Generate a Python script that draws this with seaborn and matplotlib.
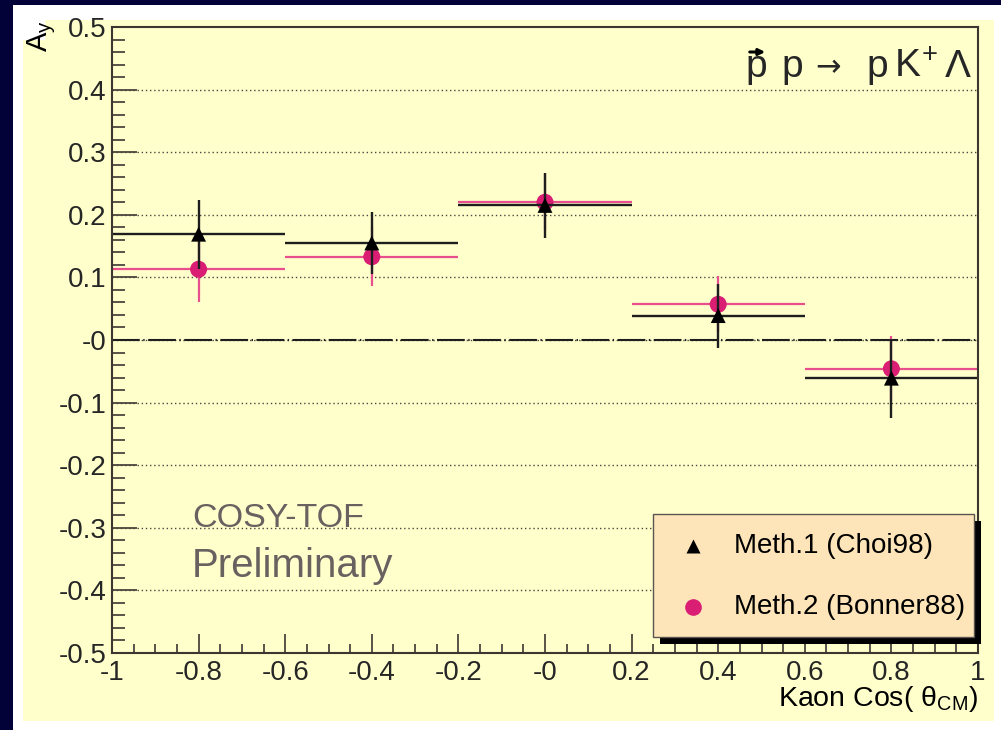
import matplotlib
matplotlib.use("Agg")
import matplotlib.pyplot as plt
from matplotlib.patches import Rectangle, FancyArrowPatch
from matplotlib.ticker import FixedLocator, FixedFormatter, MultipleLocator
import numpy as np
import pandas as pd
import seaborn as sns

# ---- data -------------------------------------------------------------
cos_bins = [-0.8, -0.4, 0.0, 0.4, 0.8]
bin_half_width = [0.2, 0.2, 0.2, 0.2, 0.2]
meth1_ay = [0.169, 0.155, 0.215, 0.039, -0.061]
meth1_err = [0.055, 0.050, 0.052, 0.051, 0.063]
meth2_ay = [0.113, 0.133, 0.220, 0.057, -0.046]
meth2_err = [0.052, 0.047, 0.045, 0.045, 0.052]

meth1_label = "Meth.1 (Choi98)"
meth2_label = "Meth.2 (Bonner88)"
y_ticks = [-0.5, -0.4, -0.3, -0.2, -0.1, 0.0, 0.1, 0.2, 0.3, 0.4, 0.5]
y_tick_labels = ["-0.5", "-0.4", "-0.3", "-0.2", "-0.1", "-0", "0.1", "0.2", "0.3", "0.4", "0.5"]
x_ticks = [-1.0, -0.8, -0.6, -0.4, -0.2, 0.0, 0.2, 0.4, 0.6, 0.8, 1.0]
x_tick_labels = ["-1", "-0.8", "-0.6", "-0.4", "-0.2", "-0", "0.2", "0.4", "0.6", "0.8", "1"]

# ---- style -------------------------------------------------------------
sns.set_style("ticks")
plt.rcParams["font.family"] = ["Liberation Sans", "DejaVu Sans"]
plt.rcParams["mathtext.fontset"] = "custom"
plt.rcParams["mathtext.rm"] = "Liberation Sans"
plt.rcParams["mathtext.it"] = "Liberation Sans:italic"
plt.rcParams["mathtext.bf"] = "Liberation Sans:bold"
plt.rcParams["lines.scale_dashes"] = False

NAVY = "#020238"
PAD_YELLOW = "#ffffcc"
LEGEND_FILL = "#fde5b9"
FRAME = "#3b3630"
BLACK = "#1e1e1e"
PINK = "#d91e74"
PINK_LINE = "#ea4f8d"
GREY_TEXT = "#676160"

W, H = 1001, 730
fig = plt.figure(figsize=(W / 100, H / 100), dpi=100, facecolor=NAVY)

def px_rect(x0, y0, x1, y1, color):
    fig.patches.append(Rectangle((x0 / W, 1 - y1 / H), (x1 - x0) / W, (y1 - y0) / H,
                                 transform=fig.transFigure, facecolor=color,
                                 edgecolor="none", zorder=-10))

# canvas layers around the pad
px_rect(13, 5, W, H, "white")
px_rect(23, 40, 994, 721, PAD_YELLOW)
px_rect(45, 20, 994, 721, PAD_YELLOW)

ax = fig.add_axes([112 / W, 1 - 653 / H, (978 - 112) / W, (653 - 27) / H])
ax.set_facecolor(PAD_YELLOW)
ax.set_xlim(-1, 1)
ax.set_ylim(-0.5, 0.5)

# grid: dotted lines at the major y ticks, dash-dot line at zero
for yv in y_ticks[1:-1]:
    ax.axhline(yv, color="#4a4540", lw=1.0, ls=(0, (1, 2)), zorder=1)
ax.axhline(0.0, color=BLACK, lw=1.5, ls=(0, (20, 2.5, 1, 2.5)), zorder=1)

# error bars (bin width horizontally, uncertainty vertically)
ax.errorbar(cos_bins, meth2_ay, xerr=bin_half_width, yerr=meth2_err, fmt="none",
            ecolor=PINK_LINE, elinewidth=1.6, capsize=0, zorder=2)
ax.errorbar(cos_bins, meth1_ay, xerr=bin_half_width, yerr=meth1_err, fmt="none",
            ecolor=BLACK, elinewidth=1.7, capsize=0, zorder=4)

df2 = pd.DataFrame({"cos": cos_bins, "ay": meth2_ay})
df1 = pd.DataFrame({"cos": cos_bins, "ay": meth1_ay})
sns.scatterplot(data=df2, x="cos", y="ay", marker="o", s=150, color=PINK,
                edgecolor="none", ax=ax, zorder=3, legend=False)
sns.scatterplot(data=df1, x="cos", y="ay", marker="^", s=115, color="black",
                edgecolor="none", ax=ax, zorder=5, legend=False)

# axes frame and ticks
for side in ["left", "right", "top", "bottom"]:
    ax.spines[side].set_visible(True)
    ax.spines[side].set_color(FRAME)
    ax.spines[side].set_linewidth(1.5)
    ax.spines[side].set_zorder(6)

ax.yaxis.set_major_locator(FixedLocator(y_ticks))
ax.yaxis.set_major_formatter(FixedFormatter(y_tick_labels))
ax.yaxis.set_minor_locator(MultipleLocator(0.02))
ax.xaxis.set_major_locator(FixedLocator(x_ticks))
ax.xaxis.set_major_formatter(FixedFormatter(x_tick_labels))
ax.xaxis.set_minor_locator(MultipleLocator(0.05))

ax.tick_params(axis="y", which="major", direction="in", length=18, width=1.2,
               color=FRAME, labelsize=20, pad=4, left=True, right=False)
ax.tick_params(axis="y", which="minor", direction="in", length=9.5, width=1.2,
               color=FRAME, left=True, right=False)
ax.tick_params(axis="x", which="major", direction="in", length=13.5, width=1.2,
               color=FRAME, labelsize=20, pad=5, bottom=True, top=False)
ax.tick_params(axis="x", which="minor", direction="in", length=6.5, width=1.2,
               color=FRAME, bottom=True, top=False)
ax.set_xlabel("")
ax.set_ylabel("")

# axis titles
fig.text(978 / W, 1 - 706 / H, r"Kaon Cos( θ$_{\mathrm{CM}}$)", ha="right",
         va="baseline", fontsize=20.5, color="black")
fig.text(42 / W, 1 - 20 / H, r"A$_{\mathrm{y}}$", rotation=90, ha="center",
         va="top", fontsize=21, color="black")

# reaction label, typeset piece by piece (figure pixels, baseline at y=77 from top)
base = H - 77
TS = 28
fig.text(745 / W, base / H, "p", ha="left", va="baseline", fontsize=TS)
fig.text(781 / W, base / H, "p", ha="left", va="baseline", fontsize=TS)
fig.text(815 / W, (base + 1) / H, "→", ha="left", va="baseline", fontsize=22,
         family=["DejaVu Sans"])
fig.text(866 / W, base / H, "p", ha="left", va="baseline", fontsize=TS)
fig.text(894 / W, base / H, r"K$^{\!+}$", ha="left", va="baseline", fontsize=TS)
fig.text(971 / W, base / H, "Λ", ha="right", va="baseline", fontsize=TS)
# polarisation arrow over the beam proton
fig.add_artist(FancyArrowPatch(
    (747 / W, (H - 52) / H), (768 / W, (H - 52) / H), transform=fig.transFigure,
    arrowstyle="-|>", mutation_scale=9, lw=2.2, color="black"))

# experiment tag
ax.text(0.0924, 0.2013, "COSY-TOF", transform=ax.transAxes, ha="left",
        va="baseline", fontsize=24.5, color=GREY_TEXT, zorder=7)
ax.text(0.0924, 0.1214, "Preliminary", transform=ax.transAxes, ha="left",
        va="baseline", fontsize=29, color=GREY_TEXT, zorder=7)

# legend box with drop shadow
lx0, lx1 = (653 - 112) / 866, (974 - 112) / 866
ly0, ly1 = (653 - 637) / 626, (653 - 514) / 626
sx, sy = 7 / 866, 7 / 626
ax.add_patch(Rectangle((lx0 + sx, ly0 - sy), lx1 - lx0, ly1 - ly0, transform=ax.transAxes,
                       facecolor="black", edgecolor="none", zorder=8, clip_on=False))
ax.add_patch(Rectangle((lx0, ly0), lx1 - lx0, ly1 - ly0, transform=ax.transAxes,
                       facecolor=LEGEND_FILL, edgecolor="#5a5550", lw=1.0, zorder=9,
                       clip_on=False))
mx = (693 - 112) / 866
tx = (734 - 112) / 866
y1e, y2e = (653 - 546) / 626, (653 - 607) / 626
ax.plot([mx], [y1e], marker="^", ms=10, color="black", mec="none",
        transform=ax.transAxes, zorder=10, clip_on=False)
ax.plot([mx], [y2e], marker="o", ms=12, color=PINK, mec="none",
        transform=ax.transAxes, zorder=10, clip_on=False)
ax.text(tx, y1e, meth1_label, transform=ax.transAxes, ha="left", va="center",
        fontsize=20, color="black", zorder=10)
ax.text(tx, y2e, meth2_label, transform=ax.transAxes, ha="left", va="center",
        fontsize=20, color="black", zorder=10)

fig.savefig("out.png", dpi=100, facecolor=NAVY)
